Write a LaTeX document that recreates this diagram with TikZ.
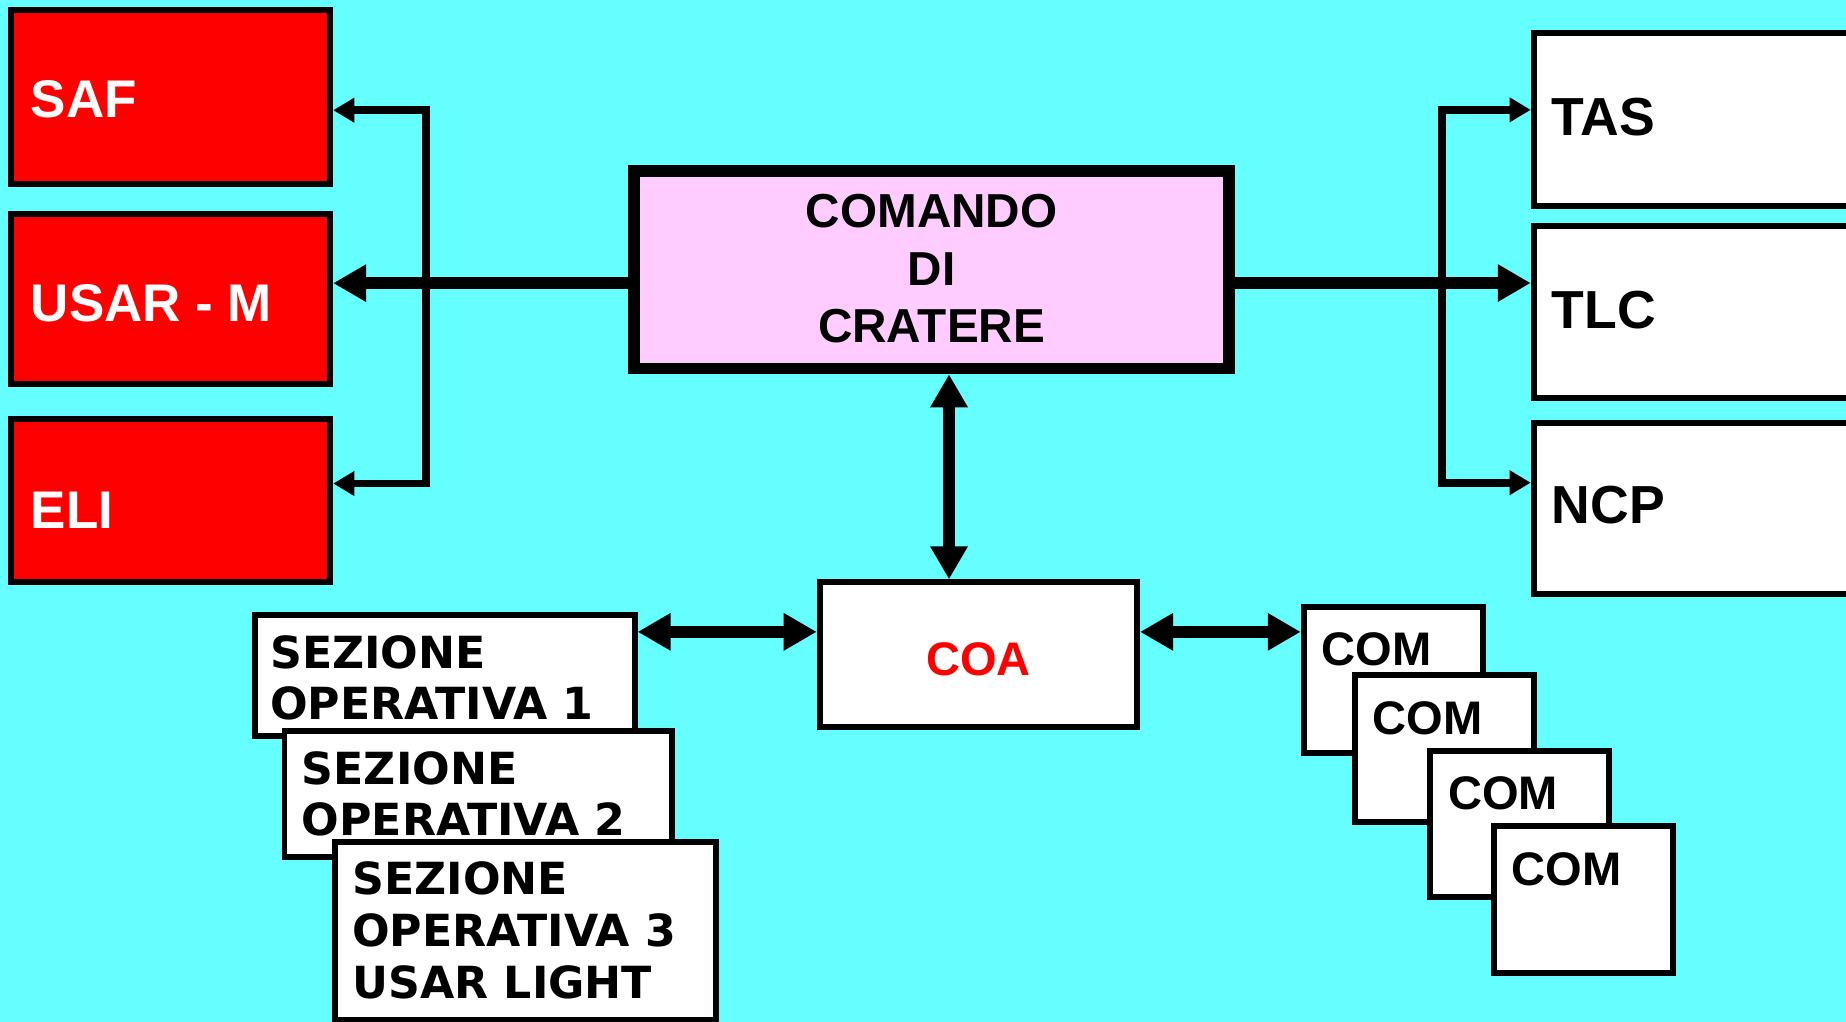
\documentclass[tikz,border=0pt]{standalone}
\usepackage{fontspec}
\setmainfont{Liberation Sans}
\newfontfamily\sezfont{DejaVu Sans}
\usetikzlibrary{arrows.meta,calc}
\definecolor{bgcyan}{RGB}{102,255,255}
\definecolor{pinkbox}{RGB}{255,204,255}
\definecolor{redbox}{RGB}{255,0,0}
\begin{document}
\begin{tikzpicture}[x=1pt,y=-1pt,
  box/.style={draw=black,line width=5pt,fill=white,inner sep=0pt,line join=miter},
  redbx/.style={box,fill=redbox,minimum width=271pt},
  rbox/.style={box,minimum width=397.3pt},
  combox/.style={box,minimum width=152pt,minimum height=124.5pt},
  redtxt/.style={text=white,font=\bfseries\fontsize{45}{54}\selectfont,inner sep=0pt,anchor=base west},
  blktxt/.style={text=black,font=\bfseries\fontsize{45.5}{54}\selectfont,inner sep=0pt,anchor=base west},
  comtxt/.style={text=black,font=\bfseries\fontsize{40}{48}\selectfont,inner sep=0pt,anchor=base west},
  seztxt/.style={text=black,font=\sezfont\bfseries\fontsize{37.6}{43.9}\selectfont,inner sep=0pt,anchor=north west,align=left},
  thinarr/.style={line width=6.5pt,line join=miter,{Triangle[length=18pt,width=20pt]}-{Triangle[length=18pt,width=20pt]}},
  thickarr/.style={line width=10pt,-{Triangle[length=28pt,width=30pt]}},
  thickdbl/.style={line width=10pt,{Triangle[length=28pt,width=30pt]}-{Triangle[length=28pt,width=30pt]}}
]
\useasboundingbox (0,0) rectangle (1568,868);
\clip (0,0) rectangle (1568,868);
\fill[bgcyan] (0,0) rectangle (1568,868);

% left red boxes
\node[redbx,minimum height=148pt] (saf) at (145,82.5) {};
\node[redbx,minimum height=144pt] (usar) at (145,254) {};
\node[redbx,minimum height=138pt] (eli) at (145,425) {};
\node[redtxt] (tsaf) at (26,100.2) {SAF};
\node[redtxt] (tusar) at (26,273.4) {USAR - M};
\node[redtxt] (teli) at (26,448.5) {ELI};

% right white boxes
\node[rbox,minimum height=146.2pt] (tas) at (1501.35,101.5) {};
\node[rbox,minimum height=146pt] (tlc) at (1501.35,265) {};
\node[rbox,minimum height=145.6pt] (ncp) at (1501.35,431.8) {};
\node[blktxt] (ttas) at (1318,114.8) {TAS};
\node[blktxt] (ttlc) at (1318,278.6) {TLC};
\node[blktxt] (tncp) at (1318,444.8) {NCP};

% central command
\node[box,fill=pinkbox,line width=10pt,minimum width=505.8pt,minimum height=167.9pt] (cmd) at (791.3,229) {};
\node[inner sep=0pt,align=center,font=\bfseries\fontsize{40.5}{48.8}\selectfont] (tcmd) at (791.3,228.5) {COMANDO\\DI\\CRATERE};

% COA
\node[box,minimum width=269.7pt,minimum height=122.6pt] (coa) at (831.05,555.9) {};
\node[inner sep=0pt,anchor=base,text=redbox,font=\bfseries\fontsize{40}{48}\selectfont] (tcoa) at (831,574) {COA};

% sezioni
\node[box,minimum width=322.8pt,minimum height=102.8pt] (sez1) at (377.7,573.5) {};
\node[seztxt] (tsez1) at (229.3,539.4) {SEZIONE\\OPERATIVA 1};
\node[box,minimum width=329.1pt,minimum height=107.1pt] (sez2) at (406.25,674.15) {};
\node[seztxt] (tsez2) at (256.2,638) {SEZIONE\\OPERATIVA 2};
\node[box,minimum width=323.7pt,minimum height=151.6pt] (sez3) at (446.45,790.7) {};
\node[seztxt] (tsez3) at (299.1,732) {SEZIONE\\OPERATIVA 3\\USAR LIGHT};

% COM boxes
\node[combox] (com1) at (1183.35,577.6) {};
\node[comtxt] (tcom1) at (1122.5,564.9) {COM};
\node[combox] (com2) at (1226.6,635.95) {};
\node[comtxt] (tcom2) at (1165.7,623.5) {COM};
\node[combox] (com3) at (1291,699.9) {};
\node[comtxt] (tcom3) at (1229.8,687.2) {COM};
\node[combox] (com4) at (1344.9,764.05) {};
\node[comtxt] (tcom4) at (1284,751.8) {COM};

% connectors
\coordinate (yL) at (362,240.5);
\coordinate (yR) at (1224.7,240.4);
\coordinate (bl1) at (362,93.6);
\coordinate (bl2) at (362,410.7);
\coordinate (br1) at (1224.7,93.3);
\coordinate (br2) at (1224.7,410);
\coordinate (vx) at (806.1,400);
\coordinate (hy) at (700,536.7);

\draw[thinarr] (saf.east |- bl1) -- (bl1) -- (bl2) -- (eli.east |- bl2);
\draw[thinarr] (tas.west |- br1) -- (br1) -- (br2) -- (ncp.west |- br2);
\draw[thickarr] (cmd.west |- yL) -- (usar.east |- yL);
\draw[thickarr] (cmd.east |- yR) -- (tlc.west |- yR);
\draw[thickdbl] (cmd.south -| vx) -- (coa.north -| vx);
\draw[thickdbl] (sez1.east |- hy) -- (coa.west |- hy);
\draw[thickdbl] (coa.east |- hy) -- (com1.west |- hy);
\end{tikzpicture}
\end{document}
